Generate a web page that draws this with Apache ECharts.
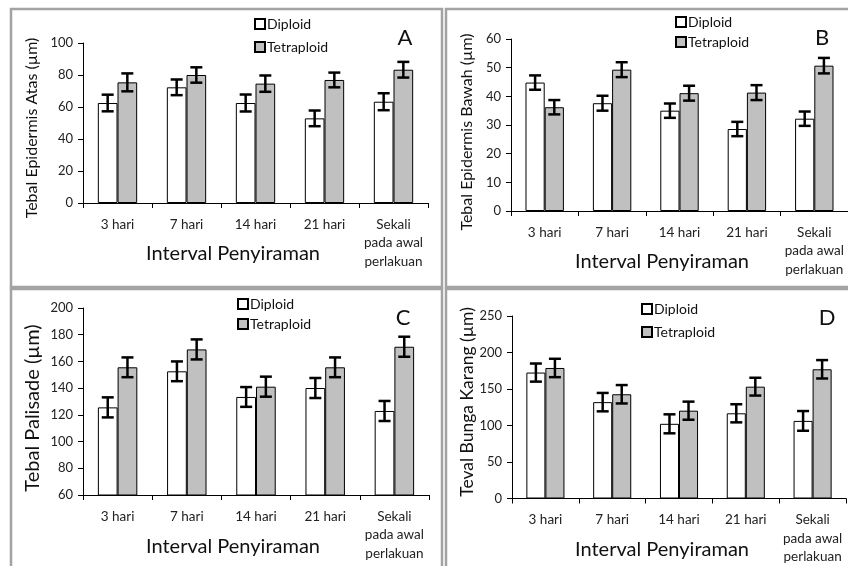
<!DOCTYPE html>
<html><head><meta charset="utf-8">
<script src="https://cdn.jsdelivr.net/npm/echarts@6/dist/echarts.min.js"></script>
<style>html,body{margin:0;padding:0;background:#fff}#c{width:848px;height:566px}</style>
</head><body><div id="c"></div>
<script>
var categories = ['3 hari','7 hari','14 hari','21 hari','Sekali\npada awal\nperlakuan'];
var seriesNames = ['Diploid','Tetraploid'];

var aDiploid = [62.5, 72.3, 62.5, 52.9, 63.3];
var aDiploidErr = [5.2, 4.9, 5.3, 4.9, 5.3];
var aTetraploid = [75.4, 80.0, 74.6, 76.9, 83.3];
var aTetraploidErr = [5.6, 4.8, 5.1, 4.6, 4.9];

var bDiploid = [44.8, 37.6, 35.0, 28.6, 32.2];
var bDiploidErr = [2.5, 2.6, 2.5, 2.5, 2.5];
var bTetraploid = [36.2, 49.3, 41.1, 41.3, 50.7];
var bTetraploidErr = [2.5, 2.6, 2.6, 2.6, 2.7];

var cDiploid = [125.6, 152.6, 133.4, 140.1, 122.9];
var cDiploidErr = [7.5, 7.4, 7.4, 7.5, 7.5];
var cTetraploid = [155.6, 169.0, 141.1, 155.6, 171.0];
var cTetraploidErr = [7.4, 7.5, 7.5, 7.4, 7.5];

var dDiploid = [172.5, 132.0, 102.3, 116.7, 106.3];
var dDiploidErr = [12.4, 12.6, 13.0, 12.4, 13.5];
var dTetraploid = [178.8, 142.8, 120.3, 153.2, 177.0];
var dTetraploidErr = [12.6, 12.6, 12.4, 12.2, 12.6];

var yTitles = ['Tebal Epidermis Atas (µm)','Tebal Epidermis Bawah (µm)','Tebal Palisade (µm)','Teval Bunga Karang (µm)'];
var xTitle = 'Interval Penyiraman';
var panelLabels = ['A','B','C','D'];
var yRanges = [[0,100,20],[0,60,10],[60,200,20],[0,250,50]];

var FONT = 'Lato';
var GAP = 0.43;

var panels = [
  {grid:{left:83, top:43, width:345, height:160}, d:aDiploid, de:aDiploidErr, t:aTetraploid, te:aTetraploidErr,
   legend:{left:249, top:12, itemGap:9}, label:[405,38], ytitle:[32,128,16], xtitle:[233,254]},
  {grid:{left:511, top:39, width:343, height:172}, d:bDiploid, de:bDiploidErr, t:bTetraploid, te:bTetraploidErr,
   legend:{left:670, top:10, itemGap:6}, label:[822,38], ytitle:[467,132,16], xtitle:[662,262]},
  {grid:{left:83, top:308, width:346, height:187}, d:cDiploid, de:cDiploidErr, t:cTetraploid, te:cTetraploidErr,
   legend:{left:232, top:292, itemGap:6}, label:[403,318], ytitle:[33,408,20], xtitle:[233,547]},
  {grid:{left:512, top:316, width:334, height:185}, d:dDiploid, de:dDiploidErr, t:dTetraploid, te:dTetraploidErr,
   legend:{left:636, top:297, itemGap:9}, label:[827,318], ytitle:[467,402,17.5], xtitle:[662,550]}
];

function errRender(sign){
  return function(params, api){
    var xi = api.value(0), lo = api.value(1), hi = api.value(2);
    var catW = api.size([1,0])[0];
    var bw = catW*(1-GAP)/2;
    var p1 = api.coord([xi, lo]);
    var p2 = api.coord([xi, hi]);
    var x = p1[0] + sign*bw/2;
    var cap = 6;
    var st = {stroke:'#000', lineWidth:2.5};
    return {type:'group', children:[
      {type:'line', shape:{x1:x, y1:p1[1], x2:x, y2:p2[1]}, style:st},
      {type:'line', shape:{x1:x-cap, y1:p1[1], x2:x+cap, y2:p1[1]}, style:st},
      {type:'line', shape:{x1:x-cap, y1:p2[1], x2:x+cap, y2:p2[1]}, style:st}
    ]};
  };
}

var grids=[], xAxes=[], yAxes=[], series=[], legends=[], graphics=[];
panels.forEach(function(p, i){
  grids.push(p.grid);
  xAxes.push({type:'category', gridIndex:i, data:categories,
    axisLine:{lineStyle:{color:'#000', width:1}},
    axisTick:{show:true, length:5, lineStyle:{color:'#000'}, alignWithLabel:false},
    axisLabel:{color:'#222', fontFamily:FONT, fontSize:13.5, lineHeight:18.5, margin:12, interval:0}
  });
  yAxes.push({type:'value', gridIndex:i, min:yRanges[i][0], max:yRanges[i][1], interval:yRanges[i][2],
    splitLine:{show:false},
    axisLine:{show:true, lineStyle:{color:'#000', width:1}},
    axisTick:{show:true, length:5, lineStyle:{color:'#000'}},
    axisLabel:{color:'#222', fontFamily:FONT, fontSize:13, margin:10}
  });
  series.push({name:seriesNames[0], type:'bar', xAxisIndex:i, yAxisIndex:i, data:p.d,
    barGap:'0%', barCategoryGap:(GAP*100)+'%',
    itemStyle:{color:'#ffffff', borderColor:'#000', borderWidth:1}, silent:true});
  series.push({name:seriesNames[1], type:'bar', xAxisIndex:i, yAxisIndex:i, data:p.t,
    barGap:'0%', barCategoryGap:(GAP*100)+'%',
    itemStyle:{color:'#c0c0c0', borderColor:'#000', borderWidth:1}, silent:true});
  series.push({name:'errD'+i, type:'custom', xAxisIndex:i, yAxisIndex:i, z:10, silent:true,
    renderItem:errRender(-1),
    data:p.d.map(function(v,k){return [k, v-p.de[k], v+p.de[k]];})});
  series.push({name:'errT'+i, type:'custom', xAxisIndex:i, yAxisIndex:i, z:10, silent:true,
    renderItem:errRender(1),
    data:p.t.map(function(v,k){return [k, v-p.te[k], v+p.te[k]];})});
  legends.push({orient:'vertical', left:p.legend.left, top:p.legend.top, itemGap:p.legend.itemGap,
    data:seriesNames, icon:'rect', itemWidth:10, itemHeight:10, selectedMode:false,
    textStyle:{fontFamily:FONT, fontSize:14, color:'#111', padding:[0,0,0,-3]}});
  graphics.push({type:'text', x:p.label[0], y:p.label[1],
    style:{text:panelLabels[i], font:'22px '+FONT, fill:'#111', align:'center', verticalAlign:'middle'}});
  graphics.push({type:'text', x:p.ytitle[0], y:p.ytitle[1], rotation:Math.PI/2,
    style:{text:yTitles[i], font:p.ytitle[2]+'px '+FONT, fill:'#111', align:'center', verticalAlign:'middle'}});
  graphics.push({type:'text', x:p.xtitle[0], y:p.xtitle[1],
    style:{text:xTitle, font:'20px '+FONT, fill:'#111', align:'center', verticalAlign:'middle'}});
});

var frames = [[11,9,431,278],[446,9,420,278],[11,289,431,300],[446,289,420,300]];
frames.forEach(function(f){
  graphics.push({type:'rect', shape:{x:f[0], y:f[1], width:f[2], height:f[3]},
    style:{fill:'none', stroke:'#a3a3a3', lineWidth:2.5}, silent:true, z:-1});
});

var chart = echarts.init(document.getElementById('c'));
chart.setOption({
  animation:false,
  grid:grids, xAxis:xAxes, yAxis:yAxes, series:series, legend:legends, graphic:graphics
});
</script></body></html>
